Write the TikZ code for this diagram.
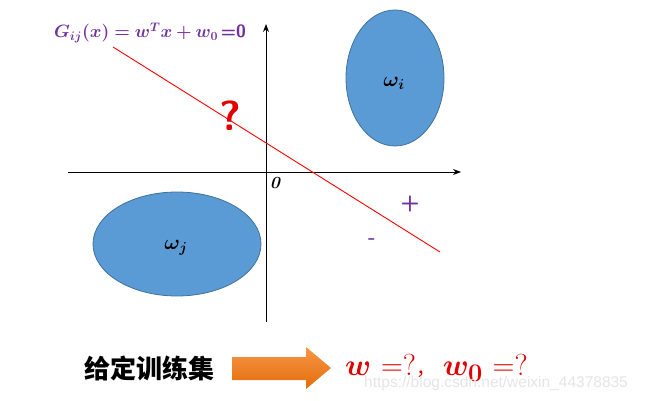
\documentclass[tikz,border=0pt]{standalone}
\usepackage{amsmath,bm}
\usepackage{fontspec}
\newfontfamily\cjk{Noto Sans CJK SC}
\newfontfamily\wmfont{Liberation Sans}
\usetikzlibrary{arrows.meta}
\definecolor{eqpurple}{HTML}{7030A0}
\definecolor{ellfill}{HTML}{5B9BD5}
\definecolor{elldraw}{HTML}{41719C}
\definecolor{qred}{HTML}{E00000}
\definecolor{arrtop}{HTML}{F79646}
\definecolor{arrbot}{HTML}{E46C0A}
\begin{document}
\begin{tikzpicture}[x=1pt,y=-1pt,
  axis/.style={draw=black,line width=0.9pt,-{Stealth[length=8pt,width=6pt]}},
  sep/.style={draw=red,line width=0.9pt},
  purp/.style={text=eqpurple,font=\sffamily\bfseries\fontsize{22}{22}\selectfont}]
\useasboundingbox (0,0) rectangle (645,401);
% axes
\coordinate (xl) at (68,172);
\coordinate (xr) at (461,172);
\coordinate (yb) at (266,322);
\coordinate (yt) at (266,24);
\draw[axis] (xl) -- (xr);
\draw[axis] (yb) -- (yt);
% ellipses
\fill[ellfill] (395,78) ellipse [x radius=49, y radius=68];
\draw[elldraw,line width=0.8pt] (395,78) ellipse [x radius=49, y radius=68];
\fill[ellfill] (177,244) ellipse [x radius=84, y radius=52];
\draw[elldraw,line width=0.8pt] (177,244) ellipse [x radius=84, y radius=52];
\node (wi) at (394,83) {\fontsize{20.74}{20.74}\selectfont$\bm{\omega_i}$};
\node (wj) at (176,248) {\fontsize{20.74}{20.74}\selectfont$\bm{\omega_j}$};
% separating line
\coordinate (la) at (113,47);
\coordinate (lb) at (440,252);
\draw[sep] (la) -- (lb);
% labels
\node[anchor=west,inner sep=0pt] (eq) at (54,33) {\color{eqpurple}\scalebox{1.03}{\fontsize{17.28}{17.28}\selectfont$\bm{G_{ij}(x)=w^{T}x+w_0}$\,\textsf{\bfseries =0}}};
\node (zero) at (275,183) {\fontsize{17}{17}\selectfont\bfseries\itshape 0};
\node[text=qred,font=\sffamily\bfseries\fontsize{42}{42}\selectfont] (q) at (230,116) {?};
\node[purp] (plus) at (410,204) {+};
\node[purp] (minus) at (372,242) {-};
% bottom
\node[font=\cjk\bfseries\fontsize{26}{26}\selectfont,anchor=west,inner sep=0pt] (set) at (84,368) {给定训练集};
\shade[top color=arrtop,bottom color=arrbot]
  (232,357) -- (306,357) -- (306,347) -- (331,368) -- (306,389) -- (306,380) -- (232,380) -- cycle;
\coordinate (arr) at (281,368);
\node[text=qred,anchor=west,inner sep=0pt] (res) at (345,368) {\scalebox{1.22}{\fontsize{24.88}{24.88}\selectfont$\bm{w}$\hspace{8pt}$=$?{\cjk\fontsize{16}{16}\selectfont ，}\hspace{6pt}$\bm{w_0}$\hspace{8pt}$=$?}};
\node[text=black!10,font=\wmfont\fontsize{15.5}{15.5}\selectfont,anchor=west,inner sep=0pt] (wm) at (364,383) {https://blog.csdn.net/weixin\_44378835};
\end{tikzpicture}
\end{document}
